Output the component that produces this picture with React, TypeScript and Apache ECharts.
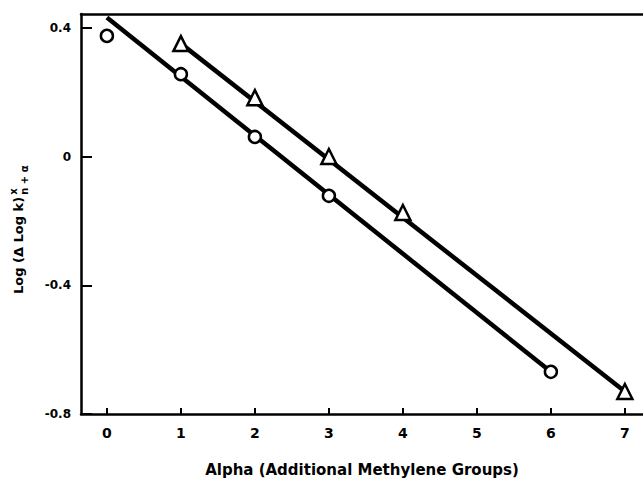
import React, { useEffect, useRef } from "react";
import * as echarts from "echarts";

const xTicks = [0, 1, 2, 3, 4, 5, 6, 7];
const yTicks = [-0.8, -0.4, 0, 0.4];
const circleData: [number, number][] = [
  [0, 0.375],
  [1, 0.256],
  [2, 0.061],
  [3, -0.122],
  [6, -0.669],
];
const triangleData: [number, number][] = [
  [1, 0.351],
  [2, 0.183],
  [3, 0.0],
  [4, -0.174],
  [7, -0.73],
];
const circleFit: [number, number][] = [
  [0, 0.432],
  [6, -0.669],
];
const triangleFit: [number, number][] = [
  [1, 0.351],
  [7, -0.73],
];
const xTitle = "Alpha (Additional Methylene Groups)";
const yTitleMain = "Log (\u0394 Log k)";
const yTitleSup = "x";
const yTitleSub = "n + \u03b1";

const FONT = "'DejaVu Sans', 'Liberation Sans', Arial, sans-serif";

function measure(text: string, font: string): number {
  const c = document.createElement("canvas").getContext("2d");
  if (!c) return text.length * 7;
  c.font = font;
  return c.measureText(text).width;
}

export default function App() {
  const ref = useRef<HTMLDivElement>(null);
  useEffect(() => {
    if (!ref.current) return;
    const chart = echarts.init(ref.current, null, { renderer: "svg" });
    const xMin = -0.35;
    const xMax = 7.245;
    const mainFont = `bold 13px ${FONT}`;
    const smallFont = `bold 10px ${FONT}`;
    const mainW = measure(yTitleMain, mainFont);
    chart.setOption({
      animation: false,
      backgroundColor: "#ffffff",
      grid: { left: 81, right: 0, top: 14, bottom: 60 },
      xAxis: [
        {
          type: "value",
          position: "bottom",
          min: xMin,
          max: xMax,
          axisLine: { show: true, onZero: false, lineStyle: { color: "#000", width: 2.5 } },
          axisTick: {
            show: true,
            inside: true,
            length: 6,
            customValues: xTicks,
            lineStyle: { color: "#000", width: 2 },
          },
          axisLabel: {
            customValues: xTicks,
            color: "#000",
            fontFamily: FONT,
            fontWeight: "bold",
            fontSize: 14,
            margin: 12,
          },
          splitLine: { show: false },
          name: xTitle,
          nameLocation: "middle",
          nameGap: 48,
          nameTextStyle: {
            color: "#000",
            fontFamily: FONT,
            fontWeight: "bold",
            fontSize: 15,
          },
        },
        {
          type: "value",
          position: "top",
          min: xMin,
          max: xMax,
          axisLine: { show: true, onZero: false, lineStyle: { color: "#000", width: 2.5 } },
          axisTick: { show: false },
          axisLabel: { show: false },
          splitLine: { show: false },
        },
      ],
      yAxis: {
        type: "value",
        min: -0.8,
        max: 0.443,
        axisLine: { show: true, onZero: false, lineStyle: { color: "#000", width: 2.5 } },
        axisTick: {
          show: true,
          inside: true,
          length: 11,
          customValues: yTicks,
          lineStyle: { color: "#000", width: 2 },
        },
        axisLabel: {
          customValues: yTicks,
          color: "#000",
          fontFamily: FONT,
          fontWeight: "bold",
          fontSize: 12,
          margin: 10,
          formatter: (v: number) => String(Math.round(v * 10) / 10),
        },
        splitLine: { show: false },
      },
      graphic: [
        {
          type: "group",
          x: 18,
          y: 294,
          rotation: Math.PI / 2,
          children: [
            {
              type: "text",
              x: 0,
              y: 0,
              style: {
                text: yTitleMain,
                fill: "#000",
                font: mainFont,
                textAlign: "left",
                textVerticalAlign: "middle",
              },
            },
            {
              type: "text",
              x: mainW + 2,
              y: -5,
              style: {
                text: yTitleSup,
                fill: "#000",
                font: smallFont,
                textAlign: "left",
                textVerticalAlign: "middle",
              },
            },
            {
              type: "text",
              x: mainW + 2,
              y: 6,
              style: {
                text: yTitleSub,
                fill: "#000",
                font: smallFont,
                textAlign: "left",
                textVerticalAlign: "middle",
              },
            },
          ],
        },
      ],
      series: [
        {
          type: "line",
          data: circleFit,
          symbol: "none",
          lineStyle: { color: "#000", width: 4.5 },
          z: 1,
        },
        {
          type: "line",
          data: triangleFit,
          symbol: "none",
          lineStyle: { color: "#000", width: 4.5 },
          z: 1,
        },
        {
          type: "scatter",
          data: circleData,
          symbol: "circle",
          symbolSize: 12,
          itemStyle: { color: "#fff", borderColor: "#000", borderWidth: 2.5, opacity: 1 },
          z: 3,
        },
        {
          type: "scatter",
          data: triangleData,
          symbol: "triangle",
          symbolSize: 15,
          itemStyle: { color: "#fff", borderColor: "#000", borderWidth: 2.5, opacity: 1 },
          z: 3,
        },
      ],
    });
    return () => chart.dispose();
  }, []);
  return (
    <div
      ref={ref}
      style={{ position: "fixed", left: 0, top: 0, width: 643, height: 482 }}
    />
  );
}
